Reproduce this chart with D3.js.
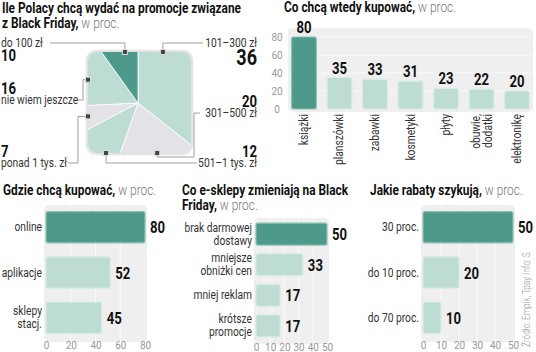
<!DOCTYPE html>
<html lang="pl">
<head>
<meta charset="UTF-8"/>
<title>Black Friday</title>
<script src="https://d3js.org/d3.v7.min.js"></script>
<style>
    body { margin: 0; background: #fff; }
    text { font-family: Roboto, "Liberation Sans", sans-serif; }
    .ttl { font-weight: bold; font-size: 14.5px; fill: #111; }
    .lite { font-weight: 300; fill: #777; }
    .lbl { font-size: 12.5px; fill: #333; }
    .val { font-weight: bold; font-size: 16px; fill: #111; }
    .tick { font-size: 10px; fill: #999; }
</style>
</head>
<body>
<div id="chart"></div>
<script>
    // --- data ---
    var pieLabels = ["101–300 zł", "301–500 zł", "501–1 tys. zł", "ponad 1 tys. zł", "nie wiem jeszcze", "do 100 zł"];
    var pieValues = [36, 20, 12, 7, 16, 10];

    var buyCats = ["książki", "planszówki", "zabawki", "kosmetyki", "płyty", "obuwie,|dodatki", "elektronikę"];
    var buyValues = [80, 35, 33, 31, 23, 22, 20];
    var buyTicks = [0, 20, 40, 60, 80];

    var whereCats = ["online", "aplikacje", "sklepy|stacj."];
    var whereValues = [80, 52, 45];
    var whereTicks = [0, 20, 40, 60, 80];

    var shopCats = ["brak darmowej|dostawy", "mniejsze|obniżki cen", "mniej reklam", "krótsze|promocje"];
    var shopValues = [50, 33, 17, 17];
    var shopTicks = [0, 10, 20, 30, 40, 50];

    var discCats = ["30 proc.", "do 10 proc.", "do 70 proc."];
    var discValues = [50, 20, 10];
    var discTicks = [0, 10, 20, 30, 40, 50];

    var dark = "#4e9a8a", light = "#bddcd3", grey = "#e3e2e6";
    var SX = 0.82; // squeeze Roboto into a condensed look

    var width = 536, height = 352;
    var svg = d3.select("#chart").append("svg").attr("width", width).attr("height", height);

    // text placed with a horizontal squeeze
    function T(x, y, cls, anchor, rot) {
        return svg.append("text").attr("class", cls).attr("text-anchor", anchor || "start")
            .attr("transform", "translate(" + x + "," + y + ")" + (rot ? " rotate(" + rot + ")" : "") + " scale(" + SX + ",1)");
    }

    function title(x, y, lines, lite) {
        var t = T(x, y, "ttl");
        lines.forEach(function (l, i) {
            t.append("tspan").attr("x", 0).attr("dy", i ? 15 : 0).text(l);
        });
        t.append("tspan").attr("class", "lite").text(lite);
    }

    function multi(t, txt, lh) {
        var parts = txt.split("|");
        parts.forEach(function (p, i) {
            t.append("tspan").attr("x", 0).attr("dy", i === 0 ? -(parts.length - 1) * lh / 2 : lh).text(p);
        });
    }

    // ---------- pie in rounded square ----------
    title(2, 13, ["Ile Polacy chcą wydać na promocje związane", "z Black Friday,"], " w proc.");

    var sq = {x: 88, y: 52, w: 103, h: 101};
    var cx = 138, cy = 103;
    svg.append("defs").append("clipPath").attr("id", "sqclip")
        .append("rect").attr("x", sq.x).attr("y", sq.y).attr("width", sq.w).attr("height", sq.h).attr("rx", 9);
    svg.append("rect").attr("x", sq.x - 1).attr("y", sq.y - 1).attr("width", sq.w + 2).attr("height", sq.h + 2)
        .attr("rx", 10).attr("fill", "none").attr("stroke", "#e4e4e4").attr("stroke-width", 2.5);

    var pieCols = [light, grey, light, grey, light, dark];
    var pie = d3.pie().sort(null)(pieValues);
    var arc = d3.arc().innerRadius(0).outerRadius(100);
    svg.append("g").attr("clip-path", "url(#sqclip)")
        .append("g").attr("transform", "translate(" + cx + "," + cy + ")")
        .selectAll("path").data(pie).enter().append("path")
        .attr("d", arc)
        .attr("fill", function (d, i) { return pieCols[i]; })
        .attr("stroke", "#fff").attr("stroke-width", 0.8);

    // markers sit on the square edge at a given angle (deg, clockwise from top)
    var markAng = [26, 159, 212.6, 255, 295, 345.6];
    function edgePt(a) {
        var r = a * Math.PI / 180, dx = Math.sin(r), dy = -Math.cos(r);
        var tx = dx > 0 ? (sq.x + sq.w - cx) / dx : dx < 0 ? (sq.x - cx) / dx : 1e9;
        var ty = dy > 0 ? (sq.y + sq.h - cy) / dy : dy < 0 ? (sq.y - cy) / dy : 1e9;
        var t = Math.min(tx, ty);
        return [cx + dx * t, cy + dy * t];
    }
    var marks = markAng.map(edgePt);

    // leader lines: from marker to label
    var leader = [
        function (m) { return [m, [m[0], 43], [203, 43]]; },
        function (m) { return [m, [m[0], 157], [194, 157], [194, 113], [200, 113]]; },
        function (m) { return [m, [m[0], 163], [197, 163]]; },
        function (m) { return [m, [78, m[1]], [78, 163], [68, 163]]; },
        function (m) { return [m, [83, m[1]], [83, 100], [77, 100]]; },
        function (m) { return [m, [m[0], 43], [50, 43]]; }
    ];
    var line = d3.line();
    svg.selectAll(".lead").data(marks).enter().append("path")
        .attr("d", function (m, i) { return line(leader[i](m)); })
        .attr("fill", "none").attr("stroke", "#888").attr("stroke-width", 0.8);
    svg.selectAll(".mk").data(marks).enter().append("rect")
        .attr("x", function (m) { return m[0] - 2.5; }).attr("y", function (m) { return m[1] - 2.5; })
        .attr("width", 5).attr("height", 5).attr("fill", "#444").attr("stroke", "#ddd").attr("stroke-width", 1);

    // pie labels: [x, anchor, label baseline, value baseline, value size]
    var pieLab = [
        [257, "end", 47, 65, 22],
        [257, "end", 117, 107, 16],
        [257, "end", 167, 157, 16],
        [1, "start", 167, 157, 16],
        [1, "start", 104, 94, 16],
        [1, "start", 47, 61, 16]
    ];
    pieLab.forEach(function (p, i) {
        T(p[0], p[2], "lbl", p[1]).text(pieLabels[i]);
        T(p[0], p[3], "val", p[1]).style("font-size", p[4] + "px").text(pieValues[i]);
    });

    // ---------- vertical bar chart ----------
    title(284, 12, ["Co chcą wtedy kupować,"], " w proc.");
    var xb = d3.scaleBand().domain(buyCats).range([288, 533]).paddingInner(0.3).paddingOuter(0.1);
    var yb = d3.scaleLinear().domain([0, 80]).range([109, 37]);

    svg.append("rect").attr("x", 288).attr("y", 28).attr("width", 245).attr("height", 84).attr("rx", 5).attr("fill", "#efefef");
    svg.selectAll(".hg").data(buyTicks.slice(1)).enter().append("line")
        .attr("x1", 288).attr("x2", 533).attr("y1", yb).attr("y2", yb).attr("stroke", "#f9f9f9");
    var yAxis = d3.axisLeft(yb).tickValues(buyTicks).tickSize(0).tickPadding(0);
    var ya = svg.append("g").attr("transform", "translate(277,0)").call(yAxis);
    ya.select(".domain").remove();
    ya.selectAll("text").attr("class", "tick").attr("text-anchor", "middle").attr("dy", "0.35em");

    svg.selectAll(".bb").data(buyValues).enter().append("rect")
        .attr("x", function (d, i) { return xb(buyCats[i]); })
        .attr("y", function (d) { return yb(d); })
        .attr("width", xb.bandwidth())
        .attr("height", function (d) { return yb(0) - yb(d); })
        .attr("rx", 2)
        .attr("fill", function (d, i) { return i === 0 ? dark : light; })
        .attr("stroke", function (d, i) { return i === 0 ? "#8cc0b3" : "#d8ece6"; }).attr("stroke-width", 1.2);
    buyValues.forEach(function (d, i) {
        T(xb(buyCats[i]) + xb.bandwidth() / 2, yb(d) - 4, "val", "middle").text(d);
    });
    buyCats.forEach(function (c, i) {
        var parts = c.split("|");
        var t = T(xb(c) + xb.bandwidth() / 2 + 4 - (parts.length - 1) * 6, 114, "lbl", "end", -90);
        parts.forEach(function (p, j) {
            t.append("tspan").attr("x", 0).attr("y", j * 12).text(p);
        });
    });

    // ---------- horizontal bar charts ----------
    function hbars(o) {
        var x = d3.scaleLinear().domain([0, o.max]).range([o.x0, o.x1]);
        var y = d3.scaleBand().domain(o.cats).range([o.y0, o.y1]).paddingInner(o.pad).paddingOuter(0.1);
        svg.append("rect").attr("x", o.x0 - 2).attr("y", o.y0 - 2).attr("width", o.x1 - o.x0 + 4)
            .attr("height", o.y1 - o.y0 + 6).attr("rx", 5).attr("fill", "#efefef");
        svg.selectAll(null).data(o.ticks.slice(1, -1)).enter().append("line")
            .attr("x1", x).attr("x2", x).attr("y1", o.y0 - 2).attr("y2", o.y1 + 4).attr("stroke", "#fafafa");
        var ax = svg.append("g").attr("transform", "translate(0," + (o.y1 + 1) + ")")
            .call(d3.axisBottom(x).tickValues(o.ticks).tickSize(0).tickPadding(0));
        ax.select(".domain").remove();
        ax.selectAll("text").attr("class", "tick").attr("dy", "0").attr("y", 10);

        svg.selectAll(null).data(o.vals).enter().append("rect")
            .attr("x", x(0)).attr("y", function (d, i) { return y(o.cats[i]); })
            .attr("width", function (d) { return x(d) - x(0); }).attr("height", y.bandwidth())
            .attr("rx", 2)
            .attr("fill", function (d, i) { return i === 0 ? dark : light; })
            .attr("stroke", function (d, i) { return i === 0 ? "#8cc0b3" : "#d8ece6"; }).attr("stroke-width", 1.2);
        o.vals.forEach(function (d, i) {
            T(x(d) + 5, y(o.cats[i]) + y.bandwidth() / 2 + 6, "val", "start").text(d);
        });
        o.cats.forEach(function (c) {
            var t = T(o.x0 - 4, y(c) + y.bandwidth() / 2 + 4, "lbl", "end");
            multi(t, c, 13);
        });
    }

    title(3, 195, ["Gdzie chcą kupować,"], " w proc.");
    hbars({cats: whereCats, vals: whereValues, ticks: whereTicks, max: 80, x0: 46, x1: 145, y0: 207, y1: 338, pad: 0.31});

    title(182, 195, ["Co e-sklepy zmieniają na Black", "Friday,"], " w proc.");
    hbars({cats: shopCats, vals: shopValues, ticks: shopTicks, max: 50, x0: 256, x1: 327, y0: 220, y1: 340, pad: 0.28});

    title(370, 195, ["Jakie rabaty szykują,"], " w proc.");
    hbars({cats: discCats, vals: discValues, ticks: discTicks, max: 50, x0: 423, x1: 513, y0: 207, y1: 338, pad: 0.31});

    // source
    T(530, 347, "src", "start", -90).style("font-size", "10px").attr("fill", "#999").attr("font-weight", 300)
        .text("Źródło: Empik, Tpay   Info: S");
</script>
</body>
</html>
